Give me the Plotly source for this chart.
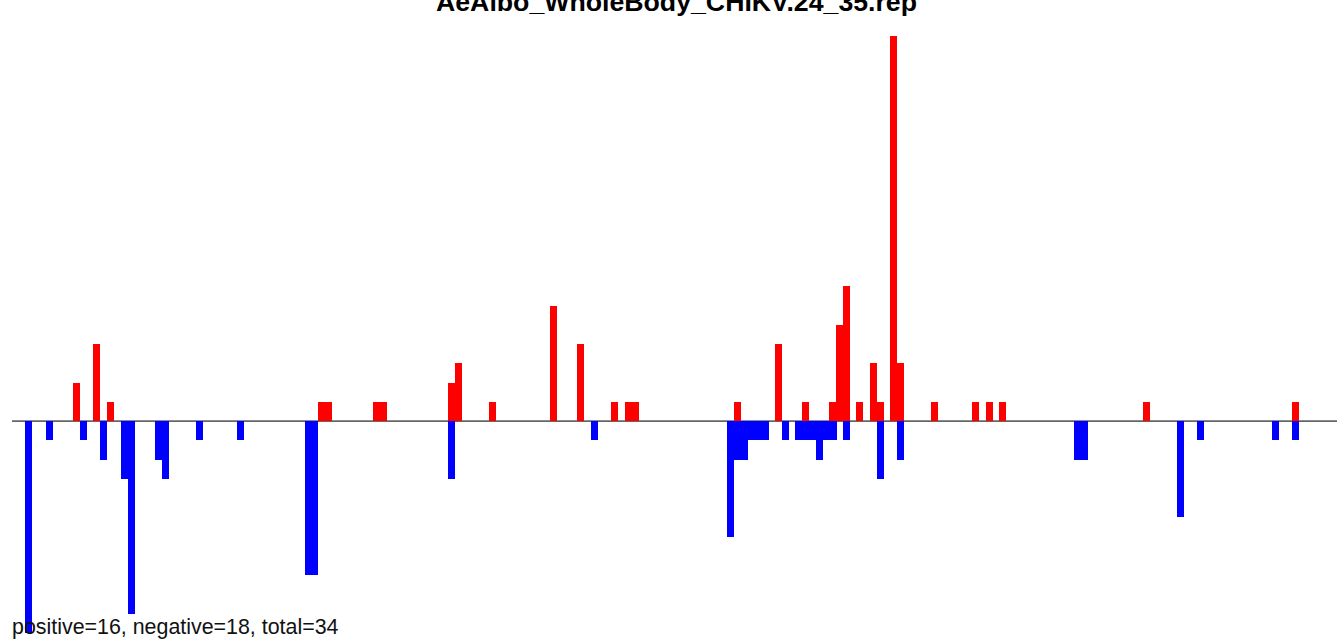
import plotly.graph_objects as go

# Positions along the sequence (arbitrary position units)
pos_positions = [8.0, 10.9, 13.0, 43.8, 44.8, 51.8, 52.8, 62.8, 63.8, 68.7,
                 77.7, 81.6, 86.6, 88.6, 89.6, 104.5, 110.5, 114.4, 118.4, 119.4,
                 120.4, 122.3, 124.4, 125.4, 127.3, 128.3, 133.3, 139.3, 141.3, 143.2,
                 164.2, 186.0]
pos_values = [2, 4, 1, 1, 1, 1, 1, 2, 3, 1,
              6, 4, 1, 1, 1, 1, 4, 1, 1, 5,
              7, 1, 3, 1, 20, 3, 1, 1, 1, 1,
              1, 1]

neg_positions = [1.0, 4.1, 9.0, 12.0, 15.0, 16.0, 20.0, 21.0, 26.0, 32.0,
                 41.9, 42.8, 62.8, 83.6, 103.5, 104.5, 105.5, 106.6, 107.6, 108.6,
                 111.5, 113.4, 114.4, 115.5, 116.5, 117.5, 118.5, 120.4, 125.4, 128.3,
                 154.2, 155.2, 169.2, 172.1, 183.1, 186.0]
neg_values = [-11, -1, -1, -2, -3, -10, -2, -3, -1, -1,
              -8, -8, -3, -1, -6, -2, -2, -1, -1, -1,
              -1, -1, -1, -1, -2, -1, -1, -1, -3, -2,
              -2, -2, -5, -1, -1, -1]

title_text = "AeAlbo_WholeBody_CHIKV.24_35.rep"
summary_text = "positive=16, negative=18, total=34"

W, H = 1337, 639
ML, MR, MT, MB = 12, 0, 36, 6
plot_h = H - MT - MB

def paper_y(px):
    return (H - MB - px) / plot_h

bar_w = 1.022

fig = go.Figure()
fig.add_trace(go.Bar(x=neg_positions, y=neg_values, width=bar_w,
                     marker=dict(color="#0000FF", line=dict(width=0)),
                     hoverinfo="x+y", showlegend=False))
fig.add_trace(go.Bar(x=pos_positions, y=pos_values, width=bar_w,
                     marker=dict(color="#FF0000", line=dict(width=0)),
                     hoverinfo="x+y", showlegend=False))

fig.add_shape(type="line", xref="paper", yref="y", x0=0, x1=1, y0=0, y1=0,
              line=dict(color="#666666", width=1.6), layer="below")

fig.add_annotation(text="<b>" + title_text + "</b>", xref="paper", yref="paper",
                   x=(676.5 - ML) / (W - ML - MR), y=paper_y(2.4),
                   xanchor="center", yanchor="middle", showarrow=False,
                   font=dict(family="Liberation Sans, Arial, sans-serif", size=26.7, color="#000000"))

fig.add_annotation(text=summary_text, xref="paper", yref="paper",
                   x=0, y=paper_y(626.5), xanchor="left", yanchor="middle",
                   showarrow=False, xshift=-2,
                   font=dict(family="Liberation Sans, Arial, sans-serif", size=21.4, color="#111111"))

fig.update_layout(
    width=W, height=H,
    margin=dict(l=ML, r=MR, t=MT, b=MB, pad=0),
    paper_bgcolor="white", plot_bgcolor="white",
    barmode="overlay", bargap=0,
    xaxis=dict(range=[-1.41, 192.05], visible=False, fixedrange=True),
    yaxis=dict(range=[-11, 20], visible=False, fixedrange=True),
    showlegend=False,
)

fig.write_html("out.html", config={"displayModeBar": False},
               post_script="document.body.style.margin='0';document.body.style.overflow='hidden';")
